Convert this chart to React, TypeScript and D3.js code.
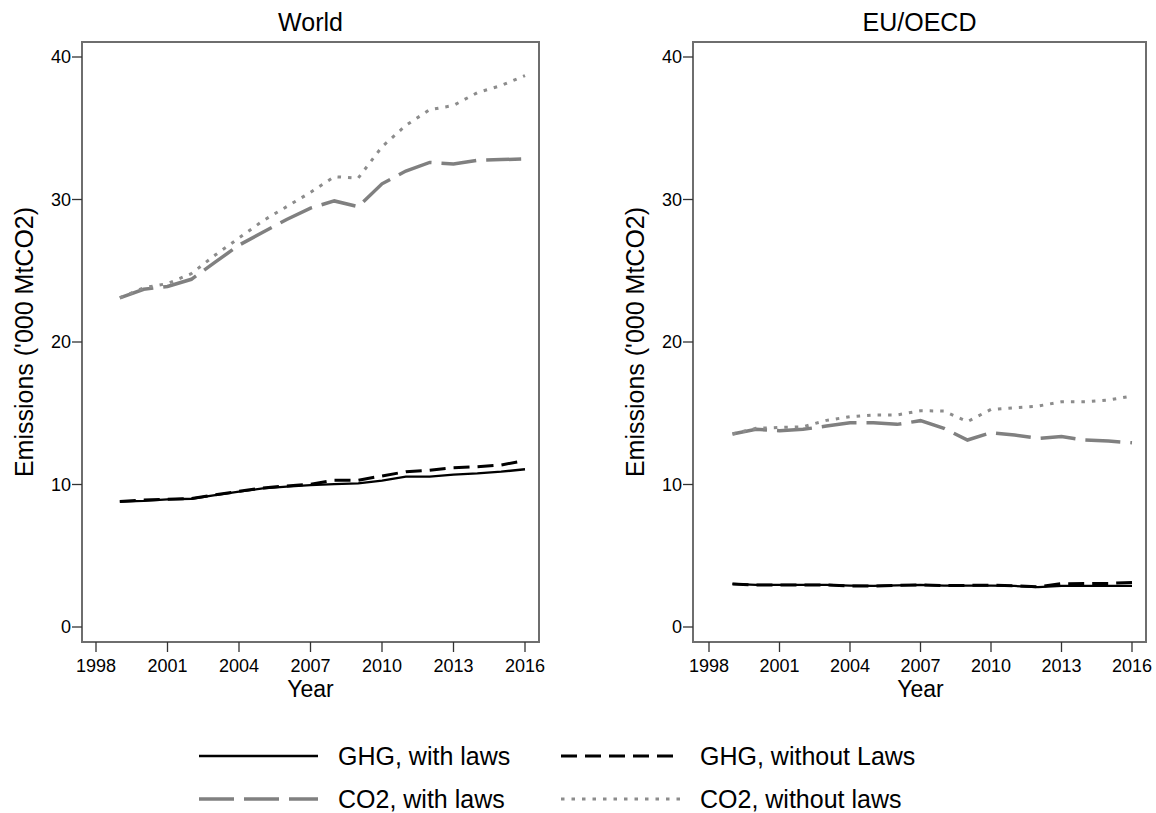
import { FC } from 'react';
import * as d3 from 'd3';

const years = [1999, 2000, 2001, 2002, 2003, 2004, 2005, 2006, 2007, 2008, 2009, 2010, 2011, 2012, 2013, 2014, 2015, 2016];
const xTicks = [1998, 2001, 2004, 2007, 2010, 2013, 2016];
const yTicks = [0, 10, 20, 30, 40];

const worldGhgWith = [8.8, 8.85, 8.95, 9.0, 9.25, 9.5, 9.73, 9.85, 9.96, 10.03, 10.08, 10.27, 10.55, 10.55, 10.7, 10.78, 10.9, 11.07];
const worldGhgWithout = [8.8, 8.92, 8.97, 9.02, 9.27, 9.52, 9.76, 9.9, 10.02, 10.3, 10.3, 10.6, 10.9, 11.0, 11.18, 11.25, 11.37, 11.68];
const worldCo2With = [23.1, 23.7, 23.9, 24.4, 25.6, 26.8, 27.7, 28.6, 29.4, 29.9, 29.5, 31.1, 32.0, 32.6, 32.5, 32.75, 32.8, 32.85];
const worldCo2Without = [23.1, 23.8, 24.1, 24.8, 26.1, 27.3, 28.5, 29.5, 30.5, 31.6, 31.5, 33.7, 35.2, 36.3, 36.6, 37.5, 38.0, 38.7];

const euGhgWith = [3.02, 2.95, 2.95, 2.95, 2.95, 2.9, 2.88, 2.92, 2.95, 2.9, 2.9, 2.9, 2.88, 2.8, 2.88, 2.88, 2.88, 2.88];
const euGhgWithout = [3.02, 2.95, 2.95, 2.95, 2.95, 2.88, 2.87, 2.92, 2.95, 2.9, 2.92, 2.93, 2.9, 2.82, 3.04, 3.05, 3.06, 3.13];
const euCo2With = [13.54, 13.87, 13.78, 13.87, 14.1, 14.34, 14.34, 14.22, 14.48, 13.94, 13.12, 13.64, 13.47, 13.24, 13.36, 13.12, 13.05, 12.93];
const euCo2Without = [13.54, 13.94, 14.0, 14.05, 14.5, 14.76, 14.88, 14.88, 15.18, 15.15, 14.41, 15.27, 15.39, 15.5, 15.81, 15.81, 15.93, 16.21];

const seriesNames = ['GHG, with laws', 'GHG, without Laws', 'CO2, with laws', 'CO2, without laws'];

// line styles, same order as seriesNames
const styles = [
  { stroke: '#000', width: 2.3, dash: 'none' },
  { stroke: '#000', width: 3, dash: '16,8' },
  { stroke: '#808080', width: 3.5, dash: '35,10' },
  { stroke: '#8c8c8c', width: 3, dash: '3.5,7' },
];

const font = '"Liberation Sans", Arial, sans-serif';

interface PanelProps {
  title: string;
  frame: { left: number; right: number; top: number; bottom: number };
  xRange: [number, number];
  series: number[][];
}

const Panel: FC<PanelProps> = ({ title, frame, xRange, series }) => {
  const x = d3.scaleLinear().domain([1998, 2016]).range(xRange);
  const y = d3.scaleLinear().domain([0, 40]).range([627, 57]);
  const line = d3.line<number>()
    .x((_, i) => x(years[i]))
    .y(d => y(d));

  const cx = (frame.left + frame.right) / 2;
  // draw grey lines first, black on top
  const order = [2, 3, 0, 1];

  return (
    <g>
      <text x={cx} y={31} textAnchor="middle" fontSize={25} fontFamily={font}>{title}</text>
      {order.map(k => (
        <path
          key={k}
          d={line(series[k]) || ''}
          fill="none"
          stroke={styles[k].stroke}
          strokeWidth={styles[k].width}
          strokeDasharray={styles[k].dash}
        />
      ))}
      <rect
        x={frame.left}
        y={frame.top}
        width={frame.right - frame.left}
        height={frame.bottom - frame.top}
        fill="none"
        stroke="#6e6e6e"
        strokeWidth={2}
      />
      {/* y axis */}
      {yTicks.map(t => (
        <g key={t}>
          <line x1={frame.left - 10} x2={frame.left} y1={y(t)} y2={y(t)} stroke="#333" strokeWidth={1.3} />
          <text x={frame.left - 11} y={y(t) + 6} textAnchor="end" fontSize={18} fontFamily={font}>{t}</text>
        </g>
      ))}
      {/* x axis */}
      {xTicks.map(t => (
        <g key={t}>
          <line x1={x(t)} x2={x(t)} y1={frame.bottom} y2={frame.bottom + 10} stroke="#333" strokeWidth={1.3} />
          <text x={x(t)} y={672} textAnchor="middle" fontSize={18} fontFamily={font}>{t}</text>
        </g>
      ))}
      <text x={(xRange[0] + xRange[1]) / 2} y={697} textAnchor="middle" fontSize={23} fontFamily={font}>Year</text>
      <text
        transform={`translate(${frame.left - 49},${(frame.top + frame.bottom) / 2}) rotate(-90)`}
        textAnchor="middle"
        fontSize={25}
        fontFamily={font}
      >
        Emissions ('000 MtCO2)
      </text>
    </g>
  );
};

const App: FC = () => {
  const legendPos = [
    { x: 199, y: 756 },
    { x: 561, y: 756 },
    { x: 199, y: 799 },
    { x: 561, y: 799 },
  ];

  return (
    <div style={{ position: 'absolute', left: 0, top: 0 }}>
      <svg width={1156} height={813} style={{ display: 'block', background: '#fff' }}>
        <Panel
          title="World"
          frame={{ left: 82, right: 539, top: 42, bottom: 642 }}
          xRange={[96, 525]}
          series={[worldGhgWith, worldGhgWithout, worldCo2With, worldCo2Without]}
        />
        <Panel
          title="EU/OECD"
          frame={{ left: 693, right: 1146, top: 42, bottom: 642 }}
          xRange={[709, 1132]}
          series={[euGhgWith, euGhgWithout, euCo2With, euCo2Without]}
        />
        {seriesNames.map((name, i) => (
          <g key={name} transform={`translate(${legendPos[i].x},${legendPos[i].y})`}>
            <line
              x1={0}
              x2={119}
              y1={0}
              y2={0}
              stroke={styles[i].stroke}
              strokeWidth={styles[i].width}
              strokeDasharray={styles[i].dash}
            />
            <text x={139} y={9} fontSize={25} fontFamily={font}>{name}</text>
          </g>
        ))}
      </svg>
    </div>
  );
};

export default App;
